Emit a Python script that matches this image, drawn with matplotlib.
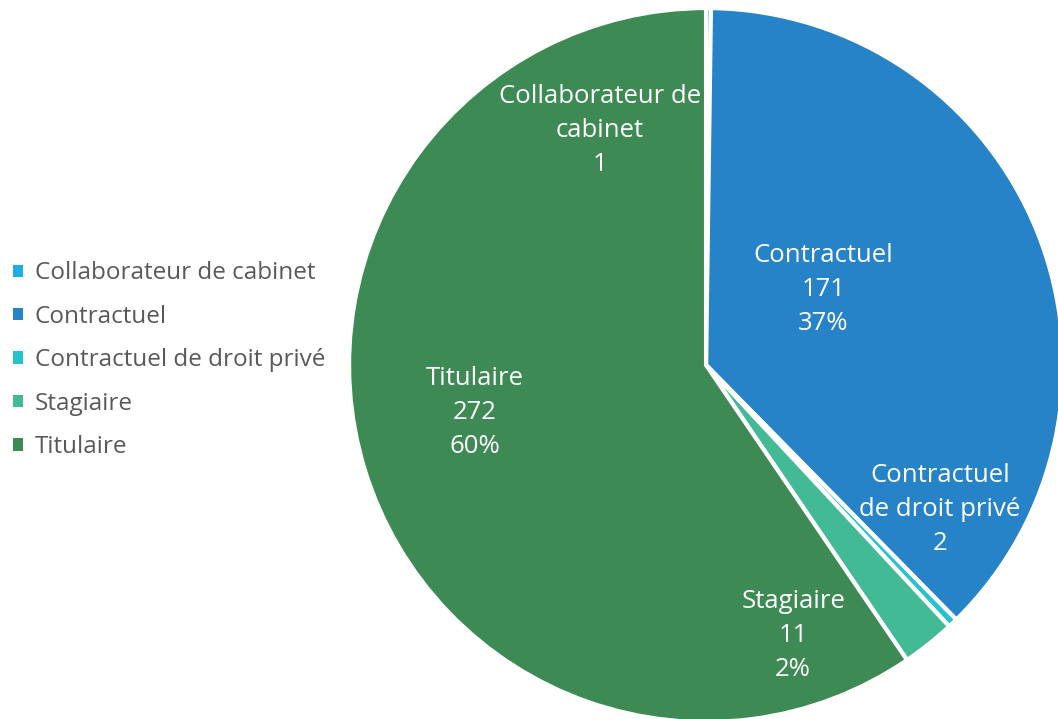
import matplotlib.pyplot as plt
from matplotlib.patches import Patch

# données du graphique
categories = ['Collaborateur de cabinet', 'Contractuel', 'Contractuel de droit privé', 'Stagiaire', 'Titulaire']
effectifs = [1, 171, 2, 11, 272]
couleurs = ['#1FAEE3', '#2783C7', '#26C2CE', '#43BA96', '#3E8A54']
# texte des étiquettes (retours à la ligne comme dans l'original)
noms_etiquettes = ['Collaborateur de\ncabinet', 'Contractuel', 'Contractuel\nde droit privé', 'Stagiaire', 'Titulaire']
# position des étiquettes (coordonnées du cercle unité)
pos_etiquettes = [(-0.297, 0.657), (0.328, 0.211), (0.655, -0.405), (0.244, -0.758), (-0.647, -0.134)]

plt.rcParams['font.family'] = ['Open Sans', 'DejaVu Sans']

fig = plt.figure(figsize=(10.58, 7.19), dpi=100)
ax = fig.add_axes([0.3299, -0.0042, 0.6749, 0.993])

wedges, _ = ax.pie(effectifs, colors=couleurs, startangle=90, counterclock=False, radius=1,
                   wedgeprops=dict(edgecolor='white', linewidth=3))
ax.set_xlim(-1, 1)
ax.set_ylim(-1, 1)
ax.set_aspect('equal')
ax.axis('off')

total = sum(effectifs)
for i in range(len(effectifs)):
    pct = effectifs[i] / total * 100
    txt = noms_etiquettes[i] + '\n' + str(effectifs[i])
    if round(pct) >= 1:
        txt += '\n' + '%d%%' % round(pct)
    ax.text(pos_etiquettes[i][0], pos_etiquettes[i][1], txt, ha='center', va='center',
            color='white', fontsize=18.5, linespacing=1.48)

# carrés de légende sans le bord blanc des secteurs
handles = [Patch(facecolor=couleurs[i], edgecolor='none') for i in range(len(categories))]
leg = fig.legend(handles, categories, loc='center left', bbox_to_anchor=(0.0123, 0.499),
                 frameon=False, fontsize=17.5, labelspacing=0.8, handlelength=0.4, handleheight=0.4,
                 handletextpad=0.5, borderpad=0, borderaxespad=0)
for t in leg.get_texts():
    t.set_color('#595959')

plt.savefig('out.png', dpi=100)
